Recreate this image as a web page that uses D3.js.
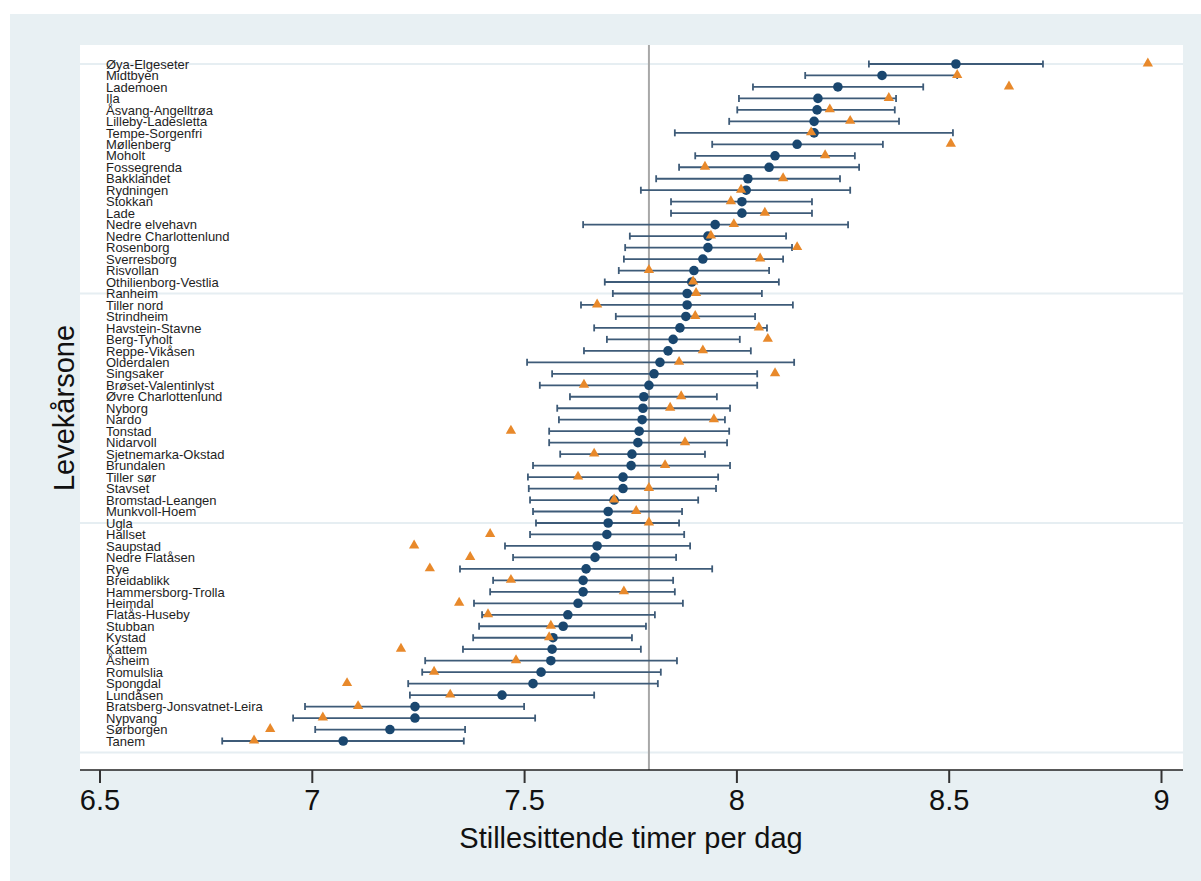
<!DOCTYPE html>
<html>
<head>
<meta charset="utf-8">
<script src="https://cdn.jsdelivr.net/npm/d3@7"></script>
<style>
  html, body { margin: 0; padding: 0; background: #ffffff; }
  svg { display: block; font-family: "Liberation Sans", Arial, Helvetica, sans-serif; }
</style>
</head>
<body>
<svg id="chart" width="1201" height="881"></svg>
<script>
const categories = ["Øya-Elgeseter","Midtbyen","Lademoen","Ila","Åsvang-Angelltrøa","Lilleby-Ladesletta","Tempe-Sorgenfri","Møllenberg","Moholt","Fossegrenda","Bakklandet","Rydningen","Stokkan","Lade","Nedre elvehavn","Nedre Charlottenlund","Rosenborg","Sverresborg","Risvollan","Othilienborg-Vestlia","Ranheim","Tiller nord","Strindheim","Havstein-Stavne","Berg-Tyholt","Reppe-Vikåsen","Olderdalen","Singsaker","Brøset-Valentinlyst","Øvre Charlottenlund","Nyborg","Nardo","Tonstad","Nidarvoll","Sjetnemarka-Okstad","Brundalen","Tiller sør","Stavset","Bromstad-Leangen","Munkvoll-Hoem","Ugla","Hallset","Saupstad","Nedre Flatåsen","Rye","Breidablikk","Hammersborg-Trolla","Heimdal","Flatås-Huseby","Stubban","Kystad","Kattem","Åsheim","Romulslia","Spongdal","Lundåsen","Bratsberg-Jonsvatnet-Leira","Nypvang","Sørborgen","Tanem"];

// adjusted estimate (dots)
const meanValues = [8.517,8.343,8.239,8.192,8.190,8.183,8.183,8.143,8.091,8.077,8.027,8.023,8.013,8.013,7.950,7.933,7.933,7.921,7.900,7.895,7.884,7.884,7.881,7.867,7.851,7.839,7.820,7.806,7.794,7.782,7.780,7.778,7.771,7.768,7.754,7.752,7.733,7.733,7.712,7.698,7.698,7.695,7.672,7.667,7.646,7.639,7.639,7.627,7.603,7.592,7.568,7.566,7.563,7.540,7.521,7.448,7.243,7.243,7.184,7.074];
// confidence interval lower / upper
const lowerValues = [8.312,8.162,8.039,8.006,8.002,7.983,7.855,7.943,7.903,7.865,7.811,7.775,7.846,7.846,7.639,7.749,7.738,7.735,7.723,7.690,7.709,7.634,7.716,7.665,7.695,7.641,7.507,7.566,7.537,7.608,7.578,7.582,7.559,7.559,7.585,7.521,7.509,7.511,7.514,7.521,7.528,7.514,7.455,7.474,7.349,7.427,7.420,7.382,7.401,7.394,7.380,7.356,7.267,7.260,7.227,7.231,6.984,6.956,7.008,6.789];
const upperValues = [8.722,8.520,8.440,8.376,8.373,8.383,8.510,8.345,8.279,8.289,8.244,8.268,8.178,8.178,8.263,8.117,8.131,8.110,8.077,8.100,8.060,8.133,8.044,8.072,8.008,8.034,8.136,8.049,8.049,7.954,7.985,7.973,7.983,7.978,7.926,7.985,7.957,7.952,7.910,7.872,7.865,7.877,7.891,7.858,7.943,7.851,7.855,7.874,7.808,7.787,7.754,7.775,7.860,7.822,7.815,7.665,7.500,7.526,7.361,7.358];
// observed / crude value (triangles)
const triangleValues = [8.969,8.520,8.642,8.359,8.220,8.268,8.176,8.505,8.209,7.926,8.110,8.011,7.987,8.067,7.994,7.940,8.143,8.056,7.794,7.898,7.905,7.672,7.903,8.053,8.074,7.921,7.865,8.091,7.641,7.870,7.844,7.947,7.469,7.879,7.665,7.832,7.627,7.794,7.712,7.764,7.794,7.420,7.241,7.373,7.278,7.469,7.735,7.347,7.415,7.563,7.559,7.210,7.481,7.288,7.083,7.326,7.109,7.026,6.902,6.864];

const referenceValue = 7.794;
const xTicks = [6.5, 7, 7.5, 8, 8.5, 9];
const yGridIndex = [0, 20, 40, 60];
const xTitle = "Stillesittende timer per dag";
const yTitle = "Levekårsone";

const svg = d3.select("#chart");
const W = 1201, H = 881;

// outer region
svg.append("rect").attr("x", 0).attr("y", 0).attr("width", W).attr("height", H).attr("fill", "#ffffff");
svg.append("rect").attr("x", 10).attr("y", 14).attr("width", W - 10).attr("height", H - 14).attr("fill", "#e8f0f3");

const plot = { left: 80, right: 1183, top: 45, bottom: 770 };
svg.append("rect").attr("x", plot.left).attr("y", plot.top)
  .attr("width", plot.right - plot.left).attr("height", plot.bottom - plot.top)
  .attr("fill", "#ffffff");

const x = d3.scaleLinear().domain([6.5, 9]).range([99.5, 1161]);
const y = d3.scaleLinear().domain([0, categories.length - 1]).range([64, 741]);

// horizontal gridlines
svg.append("g").selectAll("line").data(yGridIndex).join("line")
  .attr("x1", plot.left).attr("x2", plot.right)
  .attr("y1", d => y(d)).attr("y2", d => y(d))
  .attr("stroke", "#e6eef2").attr("stroke-width", 2);

// reference line
svg.append("line")
  .attr("x1", x(referenceValue)).attr("x2", x(referenceValue))
  .attr("y1", plot.top).attr("y2", plot.bottom)
  .attr("stroke", "#a8a8a8").attr("stroke-width", 2);

// x axis
const xAxis = d3.axisBottom(x).tickValues(xTicks).tickSize(13).tickPadding(6)
  .tickFormat(d => d3.format("")(d));
const gx = svg.append("g").attr("transform", `translate(0,${plot.bottom})`).call(xAxis);
gx.select(".domain").attr("d", `M${plot.left},0H${plot.right}`).attr("stroke", "#222").attr("stroke-width", 1.5);
gx.selectAll(".tick line").attr("stroke", "#333").attr("stroke-width", 2);
gx.selectAll(".tick text").attr("font-size", 29).attr("fill", "#111")
  .attr("font-family", "'Liberation Sans', Arial, Helvetica, sans-serif");

// category labels
svg.append("g").selectAll("text").data(categories).join("text")
  .attr("x", 106).attr("y", (d, i) => y(i)).attr("dy", "0.36em")
  .attr("font-size", 13).attr("fill", "#1e1e1e")
  .text(d => d);

const rows = categories.map((c, i) => ({ i, c, m: meanValues[i], lo: lowerValues[i], hi: upperValues[i], t: triangleValues[i] }));

// whiskers
const whisk = svg.append("g").attr("stroke", "#3e5b78").attr("stroke-width", 1.8);
whisk.selectAll("line.h").data(rows).join("line").attr("class", "h")
  .attr("x1", d => x(d.lo)).attr("x2", d => x(d.hi))
  .attr("y1", d => y(d.i)).attr("y2", d => y(d.i));
whisk.selectAll("line.cl").data(rows).join("line").attr("class", "cl")
  .attr("x1", d => x(d.lo)).attr("x2", d => x(d.lo))
  .attr("y1", d => y(d.i) - 3.5).attr("y2", d => y(d.i) + 3.5);
whisk.selectAll("line.ch").data(rows).join("line").attr("class", "ch")
  .attr("x1", d => x(d.hi)).attr("x2", d => x(d.hi))
  .attr("y1", d => y(d.i) - 3.5).attr("y2", d => y(d.i) + 3.5);

// dots
svg.append("g").selectAll("circle").data(rows).join("circle")
  .attr("cx", d => x(d.m)).attr("cy", d => y(d.i)).attr("r", 4.8)
  .attr("fill", "#1a476f");

// triangles
const tri = d3.symbol().type(d3.symbolTriangle).size(46);
svg.append("g").selectAll("path").data(rows).join("path")
  .attr("d", tri)
  .attr("transform", d => `translate(${x(d.t)},${y(d.i) - 0.5})`)
  .attr("fill", "#e8892b");

// axis titles
svg.append("text").attr("x", 631).attr("y", 848).attr("text-anchor", "middle")
  .attr("font-size", 29).attr("fill", "#111").text(xTitle);
svg.append("text").attr("transform", "translate(74,408) rotate(-90)")
  .attr("text-anchor", "middle").attr("font-size", 29).attr("fill", "#111").text(yTitle);
</script>
</body>
</html>
